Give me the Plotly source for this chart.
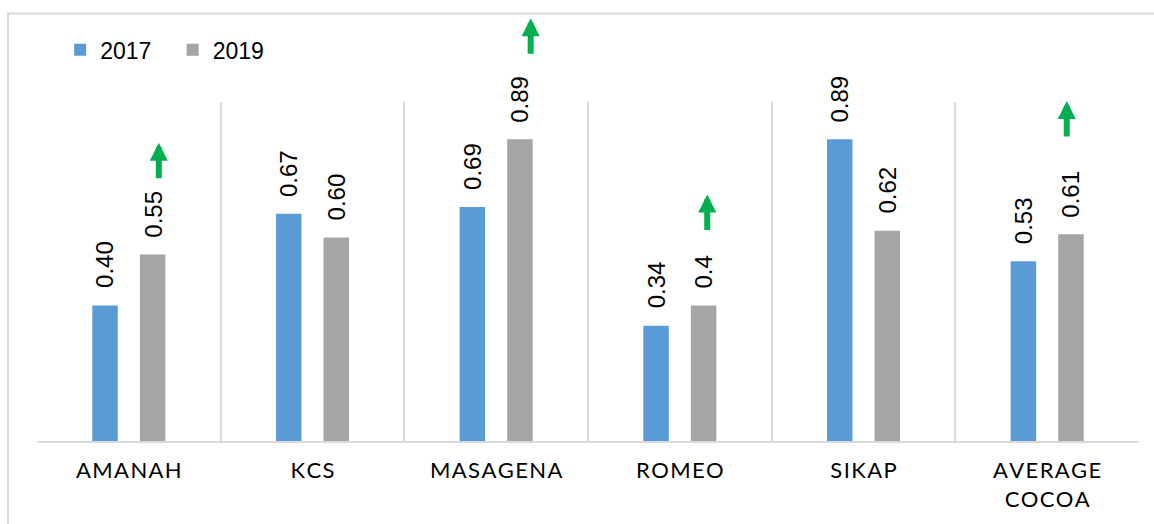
import plotly.graph_objects as go

categories = ["AMANAH", "KCS", "MASAGENA", "ROMEO", "SIKAP", "AVERAGE<br>COCOA"]
values_2017 = [0.40, 0.67, 0.69, 0.34, 0.89, 0.53]
values_2019 = [0.55, 0.60, 0.89, 0.40, 0.62, 0.61]
labels_2017 = ["0.40", "0.67", "0.69", "0.34", "0.89", "0.53"]
labels_2019 = ["0.55", "0.60", "0.89", "0.4", "0.62", "0.61"]
# categories with an "increase" arrow, and arrow tip heights (fraction of the 0-1 axis)
arrow_categories = ["AMANAH", "MASAGENA", "ROMEO", "AVERAGE<br>COCOA"]
arrow_tips = [0.880, 1.247, 0.727, 1.003]
arrow_xshift = [30, 34.5, 27.4, 19.6]

BLUE = "#5B9BD5"
GREY = "#A5A5A5"
GRID = "#D9D9D9"
HAIR = "\u200A"


def spaced(label):
    return "<br>".join(HAIR.join(list(part)) for part in label.split("<br>"))


tick_text = [spaced(c) for c in categories]

fig = go.Figure()
fig.add_trace(go.Bar(name="2017", x=categories, y=values_2017, marker_color=BLUE,
                     marker_line_width=0))
fig.add_trace(go.Bar(name="2019", x=categories, y=values_2019, marker_color=GREY,
                     marker_line_width=0))

annotations = []
off = 23.8
num_font = dict(family="Liberation Sans, Arial", size=24, color="#000")
for c, v, t in zip(categories, values_2017, labels_2017):
    annotations.append(dict(x=c, y=v, xref="x", yref="y", text=t, showarrow=False,
                            textangle=-90, xshift=-off, yshift=15, yanchor="bottom",
                            xanchor="center", font=num_font))
for c, v, t in zip(categories, values_2019, labels_2019):
    annotations.append(dict(x=c, y=v, xref="x", yref="y", text=t, showarrow=False,
                            textangle=-90, xshift=off, yshift=15, yanchor="bottom",
                            xanchor="center", font=num_font))
for c, tip, xs in zip(arrow_categories, arrow_tips, arrow_xshift):
    annotations.append(dict(x=c, y=tip, xref="x", yref="paper", text="", showarrow=True,
                            ax=0, ay=37, axref="pixel", ayref="pixel", xshift=xs,
                            arrowhead=2, arrowsize=0.6, arrowwidth=6,
                            arrowcolor="#00B050", standoff=0))

fig.update_layout(
    width=1154, height=524,
    margin=dict(l=37, r=15, t=102, b=79),
    paper_bgcolor="white", plot_bgcolor="white",
    barmode="group", bargap=0.482, bargroupgap=0.464,
    showlegend=True,
    legend=dict(orientation="h", x=0.021, xanchor="left", y=1.154, yanchor="middle",
                font=dict(family="Liberation Sans, Arial", size=23, color="#000"),
                entrywidth=67.5, entrywidthmode="pixels", bgcolor="rgba(0,0,0,0)"),
    annotations=annotations,
    shapes=[dict(type="rect", xref="paper", yref="paper", x0=-0.0263, x1=1.2,
                 y0=-0.5, y1=1.261, line=dict(color=GRID, width=2), layer="below")],
)
fig.update_xaxes(
    type="category", tickson="boundaries", showgrid=True, gridcolor=GRID, gridwidth=2,
    showline=True, linecolor=GRID, linewidth=2, ticks="",
    tickmode="array", tickvals=categories, ticktext=tick_text,
    tickfont=dict(family="Lato", size=22, color="#000"),
    ticklabelstandoff=9,
)
fig.update_yaxes(range=[0, 1.0], visible=False, showgrid=False, zeroline=False)

fig.write_html("out.html")
